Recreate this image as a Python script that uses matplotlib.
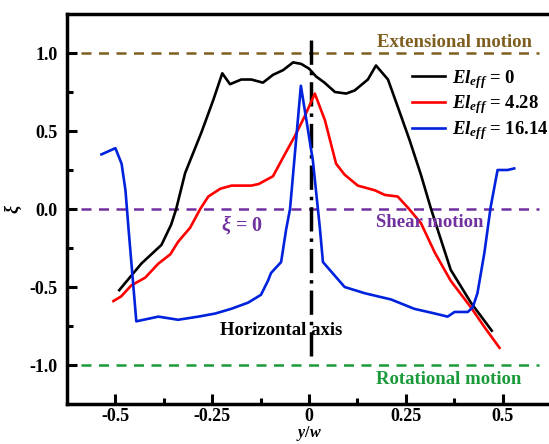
import numpy as np
import matplotlib
matplotlib.use("Agg")
import matplotlib.pyplot as plt

plt.rcParams['font.family'] = ['Liberation Serif', 'DejaVu Serif']
plt.rcParams['font.weight'] = 'bold'
plt.rcParams['mathtext.fontset'] = 'custom'
plt.rcParams['mathtext.rm'] = 'Liberation Serif:bold'
plt.rcParams['mathtext.it'] = 'Liberation Serif:italic:bold'
plt.rcParams['mathtext.bf'] = 'Liberation Serif:bold'

# datos
x_el0 = [-0.49, -0.433, -0.381, -0.356, -0.343, -0.32, -0.278, -0.247, -0.224, -0.204,
         -0.175, -0.149, -0.119, -0.093, -0.067, -0.041, -0.02, 0.0, 0.018, 0.04,
         0.067, 0.096, 0.118, 0.152, 0.173, 0.204, 0.23, 0.26, 0.289, 0.314,
         0.332, 0.366, 0.418, 0.472]
y_el0 = [-0.52, -0.35, -0.23, -0.10, 0.0, 0.23, 0.49, 0.70, 0.87, 0.80,
         0.83, 0.83, 0.81, 0.86, 0.89, 0.94, 0.93, 0.90, 0.85, 0.81,
         0.75, 0.74, 0.76, 0.83, 0.92, 0.83, 0.65, 0.44, 0.22, 0.01,
         -0.13, -0.39, -0.60, -0.78]

x_el4 = [-0.505, -0.485, -0.459, -0.423, -0.389, -0.358, -0.338, -0.307, -0.281, -0.26,
         -0.229, -0.2, -0.149, -0.13, -0.093, -0.067, -0.036, -0.01, 0.015, 0.041,
         0.07, 0.092, 0.126, 0.17, 0.196, 0.229, 0.255, 0.289, 0.325, 0.366,
         0.418, 0.454, 0.492]
y_el4 = [-0.59, -0.56, -0.49, -0.44, -0.35, -0.29, -0.21, -0.12, 0.0, 0.08,
         0.13, 0.15, 0.15, 0.16, 0.21, 0.33, 0.47, 0.60, 0.74, 0.57,
         0.29, 0.22, 0.15, 0.12, 0.09, 0.08, 0.01, -0.09, -0.28, -0.46,
         -0.63, -0.76, -0.89]

x_el16 = [-0.536, -0.5, -0.484, -0.474, -0.466, -0.446, -0.389, -0.338, -0.286, -0.242,
          -0.201, -0.157, -0.124, -0.106, -0.098, -0.072, -0.059, -0.049, -0.021, 0.01,
          0.028, 0.036, 0.092, 0.144, 0.212, 0.272, 0.325, 0.358, 0.376, 0.41,
          0.423, 0.435, 0.453, 0.469, 0.487, 0.513, 0.53]
y_el16 = [0.35, 0.39, 0.29, 0.12, -0.13, -0.72, -0.69, -0.71, -0.69, -0.67,
          -0.64, -0.60, -0.55, -0.46, -0.41, -0.34, -0.13, 0.0, 0.79, 0.31,
          -0.12, -0.34, -0.50, -0.54, -0.58, -0.64, -0.67, -0.69, -0.66, -0.66,
          -0.63, -0.54, -0.28, 0.01, 0.25, 0.25, 0.26]

etiquetas = [r'$El_{eff}$ = 0', r'$El_{eff}$ = 4.28', r'$El_{eff}$ = 16.14']
colores = ['black', '#ff0000', '#0022dd']

fig = plt.figure(figsize=(5.49, 4.44), dpi=100)
ax = fig.add_axes([67/549, 1 - 404/444, (551 - 67)/549, 390/444])

# lineas de referencia
xs = [-0.59, 0.593]
ax.plot(xs, [1, 1], color='#7f5f1f', lw=1.8, dashes=(4, 3))
ax.plot(xs, [0, 0], color='#7030a0', lw=1.8, dashes=(4, 3))
ax.plot(xs, [-1, -1], color='#1a9a3a', lw=1.8, dashes=(4, 3))
ax.plot([0.005, 0.005], [-0.94, 1.11], color='black', lw=2.5, dashes=(7, 2, 1, 2))

ax.plot(x_el0, y_el0, color=colores[0], lw=1.9, label=etiquetas[0])
ax.plot(x_el4, y_el4, color=colores[1], lw=1.9, label=etiquetas[1])
ax.plot(x_el16, y_el16, color=colores[2], lw=1.9, label=etiquetas[2])

ax.text(0.375, 1.07, 'Extensional motion', color='#7f5f1f', fontsize=13.5,
        fontweight='bold', ha='center', va='center')
ax.text(0.312, -0.085, 'Shear motion', color='#7030a0', fontsize=13.5,
        fontweight='bold', ha='center', va='center')
ax.text(-0.173, -0.10, r'$\xi$ = 0', color='#7030a0', fontsize=14.5,
        fontweight='bold', ha='center', va='center')
ax.text(0.362, -1.09, 'Rotational motion', color='#1a9a3a', fontsize=13.5,
        fontweight='bold', ha='center', va='center')
ax.text(-0.072, -0.78, 'Horizontal axis', color='black', fontsize=13.5,
        fontweight='bold', ha='center', va='center')

ax.set_xlim(-0.625, 0.625)
ax.set_ylim(-1.25, 1.25)
ax.set_xticks([-0.5, -0.25, 0, 0.25, 0.5])
ax.set_xticklabels(['-0.5', '-0.25', '0', '0.25', '0.5'])
ax.set_xticks([-0.375, -0.125, 0.125, 0.375], minor=True)
ax.set_yticks([-1.0, -0.5, 0.0, 0.5, 1.0])
ax.set_yticklabels(['-1.0', '-0.5', '0.0', '0.5', '1.0'])
ax.set_yticks([-0.75, -0.25, 0.25, 0.75], minor=True)
ax.tick_params(which='both', direction='in', width=2.2, labelsize=13, top=False, right=False)
ax.tick_params(which='major', length=7, pad=7)
ax.tick_params(axis='x', which='major', pad=3)
ax.tick_params(which='minor', length=4)
for s in ax.spines.values():
    s.set_linewidth(2.5)

# etiqueta del eje x pegada al borde inferior
fig.text(ax.get_position().x0 + (309 - 67)/549, 0.002, r'$y/w$', fontsize=11.5,
         ha='center', va='bottom')
ax.set_ylabel(r'$\xi$', fontsize=13, labelpad=4)

ax.legend(loc='upper left', bbox_to_anchor=(0.712, 0.862), frameon=False,
          fontsize=13.5, handlelength=1.8, handletextpad=0.35, labelspacing=0.15,
          borderpad=0, borderaxespad=0)

fig.savefig('out.png', dpi=100)
